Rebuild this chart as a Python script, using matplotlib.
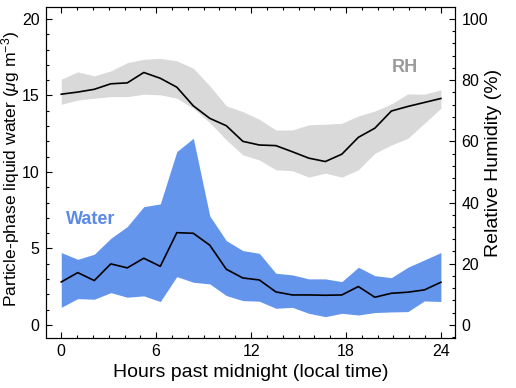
import numpy as np
import matplotlib
matplotlib.use("Agg")
import matplotlib.pyplot as plt
from matplotlib.ticker import MultipleLocator

plt.rcParams['font.family'] = ['Liberation Sans', 'DejaVu Sans']
plt.rcParams['mathtext.fontset'] = 'custom'
plt.rcParams['mathtext.rm'] = 'Liberation Sans'
plt.rcParams['mathtext.it'] = 'Liberation Sans:italic'

# 24 hourly bins spread across the 0-24 h axis
hours = np.linspace(0, 24, 24)

# particle-phase liquid water (ug m-3): median and spread
water_med = [2.81, 3.42, 2.90, 3.99, 3.73, 4.36, 3.83, 6.03, 5.99, 5.21, 3.64, 3.07,
             2.94, 2.16, 1.96, 1.96, 1.94, 1.96, 2.51, 1.81, 2.07, 2.14, 2.29, 2.79]
water_hi = [4.73, 4.29, 4.62, 5.66, 6.43, 7.73, 7.91, 11.33, 12.2, 7.12, 5.51, 4.86,
            4.68, 3.38, 3.27, 3.01, 3.01, 2.83, 3.77, 3.22, 3.09, 3.77, 4.25, 4.73]
water_lo = [1.15, 1.72, 1.68, 2.11, 1.81, 1.90, 1.53, 3.16, 2.79, 2.68, 1.92, 1.59,
            1.55, 1.09, 1.15, 0.76, 0.54, 0.76, 0.65, 0.81, 0.85, 0.87, 1.57, 1.53]

# relative humidity (%): median and spread
rh_med = [75.4, 76.1, 77.0, 78.8, 79.1, 82.5, 80.6, 77.7, 71.6, 67.5, 65.1, 60.0,
          58.8, 58.6, 56.6, 54.5, 53.4, 55.8, 61.3, 64.3, 69.9, 71.4, 72.7, 74.0]
rh_hi = [80.3, 82.7, 81.4, 83.0, 85.7, 86.8, 87.1, 86.3, 83.9, 78.1, 71.6, 69.7,
         67.2, 63.7, 63.7, 65.4, 65.6, 65.9, 68.3, 69.9, 72.2, 75.5, 75.4, 76.8]
rh_lo = [72.1, 73.5, 74.1, 74.6, 74.6, 75.4, 75.2, 74.1, 70.8, 66.1, 60.5, 55.6,
         53.9, 50.7, 50.4, 48.3, 49.6, 48.3, 50.7, 56.1, 58.8, 61.0, 65.9, 70.8]

blue = '#6495ed'
gray = '#d9d9d9'

fig = plt.figure(figsize=(5.16, 3.88), dpi=100)
ax = fig.add_axes([0.089, 0.129, 0.793, 0.853])
ax2 = ax.twinx()

ax.fill_between(hours, water_lo, water_hi, color=blue, lw=0)
ax.plot(hours, water_med, color='black', lw=1.2)

ax2.fill_between(hours, rh_lo, rh_hi, color=gray, lw=0)
ax2.plot(hours, rh_med, color='black', lw=1.2)

ax.set_xlim(-0.97, 24.9)
ax.set_ylim(-0.85, 20.78)
ax2.set_ylim(-4.25, 103.9)

ax.xaxis.set_major_locator(MultipleLocator(6))
ax.xaxis.set_minor_locator(MultipleLocator(1))
ax.yaxis.set_major_locator(MultipleLocator(5))
ax.yaxis.set_minor_locator(MultipleLocator(1))
ax2.yaxis.set_major_locator(MultipleLocator(20))
ax2.yaxis.set_minor_locator(MultipleLocator(4))

for a in (ax, ax2):
    a.tick_params(which='both', direction='in', labelsize=11.5, width=0.8, pad=4.5)
    a.tick_params(which='major', length=4.5)
    a.tick_params(which='minor', length=2.5)
    for s in a.spines.values():
        s.set_linewidth(0.8)
ax.tick_params(which='both', top=True)

ax.set_xlabel('Hours past midnight (local time)', fontsize=14, labelpad=3.5)
ax.set_ylabel('Particle-phase liquid water ($\\mu$g m$^{-3}$)', fontsize=12.6)
ax2.set_ylabel('Relative Humidity (%)', fontsize=14)
ax.yaxis.set_label_coords(-0.058, 0.51)
ax2.yaxis.set_label_coords(1.074, 0.53)

ax.text(1.88, 6.86, 'Water', color='#5b8ae6', fontsize=13, fontweight='bold',
        ha='center', va='center')
ax.text(21.7, 16.8, 'RH', color='#9a9a9a', fontsize=13, fontweight='bold',
        ha='center', va='center')

fig.savefig('out.png', dpi=100)
